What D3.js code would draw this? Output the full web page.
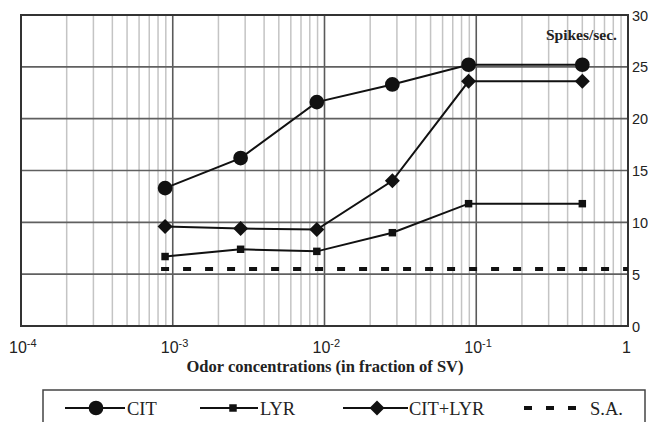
<!DOCTYPE html>
<html><head><meta charset="utf-8">
<script src="https://cdn.jsdelivr.net/npm/d3@7/dist/d3.min.js"></script>
<style>body{margin:0;background:#fff}svg{display:block}</style>
</head><body>
<svg id="c" width="648" height="422"></svg>
<script>
const concentrations = [0.00089, 0.0028, 0.0089, 0.028, 0.089, 0.5];
const citValues = [13.3, 16.2, 21.6, 23.3, 25.2, 25.2];
const lyrValues = [6.7, 7.4, 7.2, 9.0, 11.8, 11.8];
const citLyrValues = [9.6, 9.4, 9.3, 14.0, 23.6, 23.6];
const saValue = 5.5;
const saRange = [0.00089, 1];
const yTicks = [0, 5, 10, 15, 20, 25, 30];
const xDecades = [-4, -3, -2, -1, 0];
const seriesNames = ["CIT", "LYR", "CIT+LYR", "S.A."];

const svg = d3.select("#c");
const L = 21, R = 628, T = 15, B = 326;
const x = d3.scaleLog().domain([1e-4, 1]).range([L, R]);
const y = d3.scaleLinear().domain([0, 30]).range([B, T]);

const minor = [];
for (let e = -4; e < 0; e++) for (let m = 2; m <= 9; m++) minor.push(m * Math.pow(10, e));
svg.append("g").selectAll("line").data(minor).join("line")
  .attr("x1", d => x(d)).attr("x2", d => x(d)).attr("y1", T).attr("y2", B)
  .attr("stroke", "#c4c4c4").attr("stroke-width", 1.5);
svg.append("g").selectAll("line").data(xDecades.slice(1, 4)).join("line")
  .attr("x1", d => x(Math.pow(10, d))).attr("x2", d => x(Math.pow(10, d)))
  .attr("y1", T).attr("y2", B).attr("stroke", "#5a5a5a").attr("stroke-width", 1.6);
svg.append("g").selectAll("line").data(yTicks.slice(1, 6)).join("line")
  .attr("x1", L).attr("x2", R).attr("y1", d => y(d)).attr("y2", d => y(d))
  .attr("stroke", "#606060").attr("stroke-width", 1.6);
svg.append("rect").attr("x", L).attr("y", T).attr("width", R - L).attr("height", B - T)
  .attr("fill", "none").attr("stroke", "#333").attr("stroke-width", 2);

svg.append("g").selectAll("text").data(yTicks).join("text")
  .attr("x", R + 4).attr("y", d => y(d) + 5.5)
  .attr("font-family", "Liberation Sans, Arial, sans-serif").attr("font-size", 14.5)
  .attr("fill", "#222").text(d => d);

const xl = svg.append("g").selectAll("text").data(xDecades).join("text")
  .attr("x", d => x(Math.pow(10, d)) + (d === 0 ? -6 : -12)).attr("y", 353)
  .attr("font-family", "Liberation Sans, Arial, sans-serif").attr("font-size", 16)
  .attr("fill", "#222");
xl.each(function(d) {
  const t = d3.select(this);
  if (d === 0) { t.text("1"); return; }
  t.append("tspan").text("10");
  t.append("tspan").attr("dy", -6).attr("font-size", 11).text(d);
});

svg.append("text").attr("x", 325).attr("y", 372).attr("text-anchor", "middle")
  .attr("font-family", "Liberation Serif, Times New Roman, serif").attr("font-weight", "bold")
  .attr("font-size", 16.5).attr("fill", "#222").text("Odor concentrations (in fraction of SV)");

svg.append("text").attr("x", 617).attr("y", 40).attr("text-anchor", "end")
  .attr("font-family", "Liberation Serif, Times New Roman, serif").attr("font-weight", "bold")
  .attr("font-size", 15.5).attr("fill", "#222").text("Spikes/sec.");

svg.append("line").attr("x1", x(saRange[0]) - 4).attr("x2", x(saRange[1]))
  .attr("y1", y(saValue)).attr("y2", y(saValue))
  .attr("stroke", "#111").attr("stroke-width", 4).attr("stroke-dasharray", "8,14");

const line = d3.line().x((d, i) => x(concentrations[i])).y(d => y(d));
[lyrValues, citLyrValues, citValues].forEach(vals => {
  svg.append("path").datum(vals).attr("d", line).attr("fill", "none")
    .attr("stroke", "#111").attr("stroke-width", 2);
});
const diamondPath = "M0,-7.5L7.5,0L0,7.5L-7.5,0Z";
const sym = {
  circle: d3.symbol().type(d3.symbolCircle).size(170)(),
  square: d3.symbol().type(d3.symbolSquare).size(56)(),
  diamond: diamondPath
};
function markers(vals, s) {
  svg.append("g").selectAll("path").data(vals).join("path")
    .attr("transform", (d, i) => `translate(${x(concentrations[i])},${y(d)})`)
    .attr("d", s).attr("fill", "#111");
}
markers(lyrValues, sym.square);
markers(citLyrValues, sym.diamond);
markers(citValues, sym.circle);

const lg = svg.append("g");
lg.append("rect").attr("x", 43).attr("y", 390).attr("width", 602).attr("height", 40)
  .attr("fill", "#fff").attr("stroke", "#444").attr("stroke-width", 1.5);
const ly = 408;
const items = [
  {x1: 65, x2: 125, m: 96, s: sym.circle, tx: 127},
  {x1: 200, x2: 258, m: 233, s: sym.square, tx: 260},
  {x1: 343, x2: 408, m: 377, s: sym.diamond, tx: 409},
  {x1: 524, x2: 578, m: null, s: null, tx: 590}
];
items.forEach((it, i) => {
  if (it.s) {
    lg.append("line").attr("x1", it.x1).attr("x2", it.x2).attr("y1", ly).attr("y2", ly)
      .attr("stroke", "#111").attr("stroke-width", 2);
    lg.append("path").attr("transform", `translate(${it.m},${ly})`).attr("d", it.s).attr("fill", "#111");
  } else {
    lg.append("line").attr("x1", it.x1).attr("x2", it.x2).attr("y1", ly).attr("y2", ly)
      .attr("stroke", "#111").attr("stroke-width", 4).attr("stroke-dasharray", "8,14");
  }
  lg.append("text").attr("x", it.tx).attr("y", ly + 6.5)
    .attr("font-family", "Liberation Serif, Times New Roman, serif").attr("font-size", 18.5)
    .attr("fill", "#222").text(seriesNames[i]);
});
</script>
</body></html>
